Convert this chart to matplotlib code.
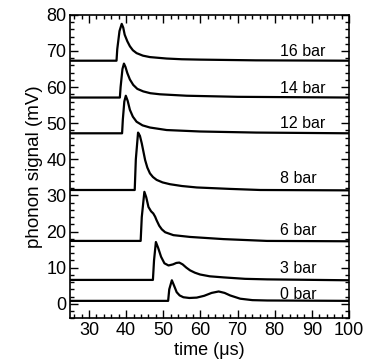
import matplotlib
matplotlib.use("Agg")
import matplotlib.pyplot as plt
from matplotlib.ticker import MultipleLocator

plt.rcParams['font.family'] = ['Liberation Sans', 'DejaVu Sans']

# traces: time (us) and signal (mV)
t_16 = [25, 37.4, 37.6, 38.2, 38.8, 39.2, 39.6, 40.3, 41.0, 41.8, 42.8, 44.5, 46.4, 50.9, 55.0, 59.9, 75, 100]
v_16 = [67.3, 67.3, 70.5, 75.5, 77.5, 76.5, 74.5, 72.7, 71.3, 70.2, 69.4, 68.7, 68.3, 67.9, 67.7, 67.6, 67.4, 67.3]

t_14 = [25, 38.3, 38.5, 39.0, 39.4, 39.8, 40.3, 41.0, 41.9, 43.0, 44.6, 46.5, 49.1, 56.3, 70, 100]
v_14 = [57.1, 57.1, 60.0, 65.0, 66.5, 65.6, 63.9, 62.1, 60.6, 59.5, 58.8, 58.3, 58.0, 57.6, 57.3, 57.1]

t_12 = [25, 38.9, 39.1, 39.5, 39.9, 40.4, 41.0, 41.8, 42.8, 44.4, 46.4, 50.9, 59.9, 75, 100]
v_12 = [47.2, 47.2, 51.0, 56.0, 57.6, 56.2, 53.7, 51.8, 50.4, 49.4, 48.8, 48.1, 47.7, 47.4, 47.2]

t_8 = [25, 42.3, 42.6, 43.2, 43.7, 44.2, 45.1, 45.7, 46.4, 47.2, 48.2, 49.8, 51.8, 55.0, 59.0, 68.0, 76.1, 100]
v_8 = [31.5, 31.5, 40.0, 47.4, 46.5, 44.4, 39.8, 37.7, 36.1, 35.1, 34.3, 33.6, 33.1, 32.6, 32.2, 31.8, 31.5, 31.4]

t_6 = [25, 43.9, 44.2, 44.9, 45.4, 46.0, 46.7, 47.3, 47.8, 48.2, 48.9, 49.6, 50.5, 52.7, 57.2, 66.2, 77.9, 100]
v_6 = [17.4, 17.4, 24.0, 31.0, 29.5, 26.8, 25.6, 25.0, 24.1, 23.1, 21.6, 20.6, 19.8, 19.0, 18.5, 17.9, 17.4, 17.3]

t_3 = [25, 47.2, 47.5, 48.0, 48.6, 49.4, 50.3, 51.4, 52.6, 53.5, 54.3, 55.2, 56.2, 57.2, 58.5, 59.9, 62.5, 66.2, 72.0, 78.0, 100]
v_3 = [6.6, 6.6, 12.0, 17.1, 15.5, 13.0, 11.2, 10.6, 10.9, 11.3, 11.4, 10.9, 10.0, 9.25, 8.6, 8.1, 7.6, 7.3, 6.9, 6.75, 6.5]

t_0 = [25, 51.3, 51.6, 52.3, 52.9, 53.6, 54.4, 55.4, 57.0, 59.0, 61.0, 63.0, 64.9, 66.5, 68.0, 70.7, 74.0, 78.0, 100]
v_0 = [0.8, 0.8, 4.0, 6.5, 5.0, 3.2, 2.3, 1.8, 1.6, 1.7, 2.2, 3.0, 3.4, 3.0, 2.3, 1.4, 1.0, 0.9, 0.8]

labels = ['16 bar', '14 bar', '12 bar', '8 bar', '6 bar', '3 bar', '0 bar']
label_y = [69.8, 59.7, 50.0, 34.6, 20.2, 9.7, 2.5]
label_x = 81.3

traces = [(t_16, v_16), (t_14, v_14), (t_12, v_12), (t_8, v_8),
          (t_6, v_6), (t_3, v_3), (t_0, v_0)]

fig = plt.figure(figsize=(3.67, 3.62), dpi=100)
ax = fig.add_axes([0.192, 0.121, 0.759, 0.838])

for t, v in traces:
    ax.plot(t, v, color='black', lw=1.6, solid_joinstyle='round')

for lab, ly in zip(labels, label_y):
    ax.text(label_x, ly, lab, fontsize=11.5, ha='left', va='center')

ax.set_xlim(25, 100)
ax.set_ylim(-4, 80)
ax.xaxis.set_major_locator(MultipleLocator(10))
ax.xaxis.set_minor_locator(MultipleLocator(2))
ax.yaxis.set_major_locator(MultipleLocator(10))
ax.yaxis.set_minor_locator(MultipleLocator(2))
ax.tick_params(which='both', direction='in', top=True, right=True, width=1)
ax.tick_params(which='major', length=6, labelsize=13, pad=3)
ax.tick_params(which='minor', length=3)
for s in ax.spines.values():
    s.set_linewidth(1.2)

ax.set_xlabel('time (\u03bcs)', fontsize=13, labelpad=2)
ax.set_ylabel('phonon signal (mV)', fontsize=13.5, labelpad=2)

fig.savefig('out.png', dpi=100)
